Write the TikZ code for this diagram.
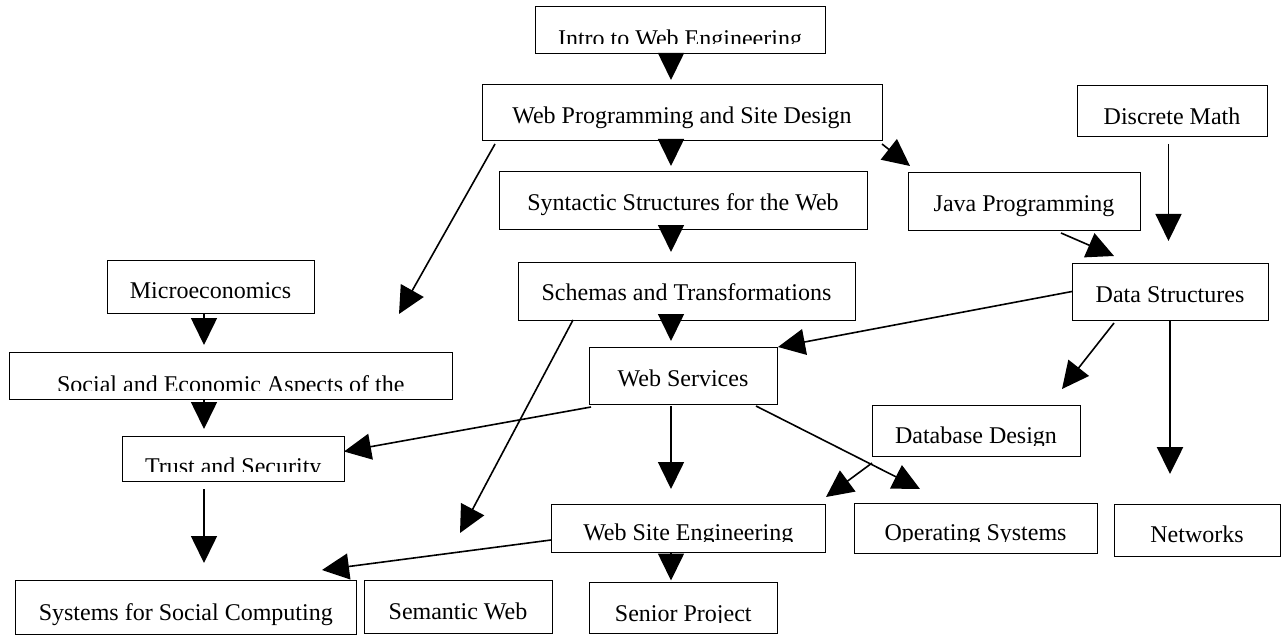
\documentclass[tikz,border=0pt]{standalone}
\usepackage{fontspec}
\setmainfont{Liberation Serif}
\usetikzlibrary{arrows.meta}
\tikzset{
  box/.style={draw, line width=0.5pt, inner sep=0pt, outer sep=0pt, font=\fontsize{12}{14}\selectfont},
  boxline/.style={draw, line width=0.5pt},
  arr/.style={line width=0.8pt, -{Triangle[length=13.5pt,width=13pt]}},
  thickarr/.style={arr, line width=1.25pt},
}
\newcommand\crsbox[7]{%
  \pgfmathsetmacro\bw{(#4-#2)/2}%
  \pgfmathsetmacro\bh{(#5-#3)/2}%
  \pgfmathsetmacro\bt{#6-(#3+#5)/2}%
  \node[box, minimum width=\bw pt, minimum height=\bh pt, text height=\bt pt, text depth=0pt] (#1) at ({(#2+#4)/2},{(#3+#5)/2}) {#7};}
\newcommand\crsclipbox[8]{%
  \pgfmathsetmacro\bw{(#4-#2)/2}%
  \pgfmathsetmacro\bh{(#5-#3)/2}%
  \pgfmathsetmacro\bt{#6-(#3+#5)/2}%
  \begin{scope}
    \clip (#2,#3) rectangle (#4,#7);
    \node[box, draw=none, minimum width=\bw pt, minimum height=\bh pt, text height=\bt pt, text depth=0pt] (#1) at ({(#2+#4)/2},{(#3+#5)/2}) {#8};
  \end{scope}
  \draw[boxline] (#1.north west) rectangle (#1.south east);}
\begin{document}
\begin{tikzpicture}[x=0.5pt,y=-0.5pt]
\fill[white] (0,0) rectangle (1283,636);
\useasboundingbox (0,0) rectangle (1283,636);
% boxes
\crsclipbox{intro}{535}{7}{825}{54}{46.5}{43.5}{Intro to Web Engineering}
\crsbox{webprog}{482}{85}{882}{141}{124}{Web Programming and Site Design}
\crsbox{syn}{499}{172}{867}{229}{211}{Syntactic Structures for the Web}
\crsbox{schemas}{518}{262}{855}{320}{300}{Schemas and Transformations}
\crsbox{micro}{107}{260}{314}{313}{298}{Microeconomics}
\crsbox{java}{908}{173}{1140}{230}{212}{Java Programming}
\crsbox{dm}{1077}{86}{1267}{137}{125}{Discrete Math}
\crsbox{ds}{1072}{263}{1268}{320}{302}{Data Structures}
\crsbox{ws}{589}{347}{777}{404}{386}{Web Services}
\crsclipbox{social}{9}{352.5}{452.5}{399.5}{392.5}{390}{Social and Economic Aspects of the}
\crsclipbox{trust}{122.5}{436.5}{344}{481.5}{474}{471.5}{Trust and Security}
\crsclipbox{db}{872}{405}{1080}{456}{443.5}{445}{Database Design}
\crsclipbox{wse}{551}{504}{825.5}{552.5}{540.5}{541.5}{Web Site Engineering}
\crsclipbox{os}{854}{503.5}{1097}{553.5}{540.5}{541.5}{Operating Systems}
\crsbox{net}{1114}{504}{1280}{556}{542.5}{Networks}
\crsbox{ssc}{15.5}{580}{356}{634}{620}{Systems for Social Computing}
\crsbox{sem}{364}{580}{552}{633}{619.5}{Semantic Web}
\crsclipbox{senior}{589}{582}{777.5}{633}{621.5}{622.5}{Senior Project}
% connectors
\draw[arr] ([shift={(-9,0)}]intro.south) -- ([shift={(-11,-5)}]webprog.north);
\draw[arr] ([shift={(-11,0)}]webprog.south) -- ([shift={(-12,-6)}]syn.north);
\draw[arr] ([shift={(-12,0)}]syn.south) -- ([shift={(-15.5,-10)}]schemas.north);
\draw[arr] ([shift={(-15.5,0)}]schemas.south) -- ([shift={(-12,-6)}]ws.north);
\draw[arr] ([shift={(13,3)}]webprog.south west) -- ([shift={(168.25,-38.5)}]social.north);
\draw[arr] ([shift={(0,3)}]webprog.south east) -- ([shift={(2,-7)}]java.north west);
\draw[arr] ([shift={(-3.5,7)}]dm.south) -- ([shift={(-1.5,-22)}]ds.north);
\draw[arr] ([shift={(37,3)}]java.south) -- ([shift={(-56,-7)}]ds.north);
\draw[arr] (ds.west) -- ([shift={(1,0)}]ws.north east);
\draw[arr] ([shift={(-56,3)}]ds.south) -- ([shift={(86,-16)}]db.north);
\draw[thickarr] (ds.south) -- ([shift={(-27,-30)}]net.north);
\draw[arr] ([shift={(-6.5,0)}]micro.south) -- ([shift={(-26.75,-7.5)}]social.north);
\draw[arr] ([shift={(-26.75,0)}]social.south) -- ([shift={(-29.25,-7.5)}]trust.north);
\draw[arr] ([shift={(2,3)}]ws.south west) -- ([shift={(0,-7.5)}]trust.east);
\draw[arr] ([shift={(-29.25,7.5)}]trust.south) -- ([shift={(18.25,-17)}]ssc.north);
\draw[arr] ([shift={(55,0)}]schemas.south west) -- ([shift={(2,-47)}]sem.north);
\draw[arr] ([shift={(0,11.75)}]wse.west) -- ([shift={(-34,-10)}]ssc.north east);
\draw[arr] ([shift={(-12,2)}]ws.south) -- ([shift={(-17.25,-15)}]wse.north);
\draw[arr] ([shift={(-21,2)}]ws.south east) -- ([shift={(-55.5,-14.5)}]os.north);
\draw[arr] ([shift={(0,7)}]db.south west) -- ([shift={(0.5,-7)}]wse.north east);
\draw[arr] ([shift={(-17.25,0)}]wse.south) -- ([shift={(-12.25,-1.5)}]senior.north);
\end{tikzpicture}
\end{document}
